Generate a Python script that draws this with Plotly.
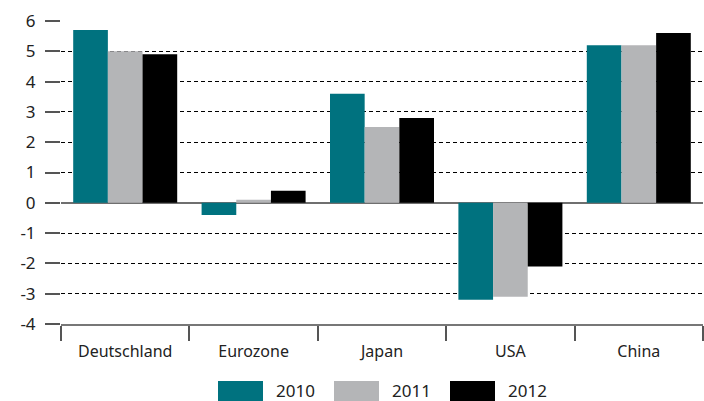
import plotly.graph_objects as go

categories = ["Deutschland", "Eurozone", "Japan", "USA", "China"]
series_names = ["2010", "2011", "2012"]
values_2010 = [5.7, -0.4, 3.6, -3.2, 5.2]
values_2011 = [5.0, 0.1, 2.5, -3.1, 5.2]
values_2012 = [4.9, 0.4, 2.8, -2.1, 5.6]
y_ticks = [-4, -3, -2, -1, 0, 1, 2, 3, 4, 5, 6]
colors = ["#00727F", "#B4B5B7", "#000000"]

FONT = "Noto Sans"
W, H = 704, 401
ML, MR, MT, MB = 61, 1, 21, 77

fig = go.Figure()
for name, vals, col in zip(series_names, [values_2010, values_2011, values_2012], colors):
    fig.add_trace(go.Bar(x=categories, y=vals, name=name, marker_color=col,
                         marker_line_width=0, showlegend=False, hoverinfo="skip"))

# custom legend (large swatches)
pw = W - ML - MR
ph = H - MT - MB
def px_x(x):
    return (x - ML) / pw
def px_y(y):
    return (H - MB - y) / ph

legend_x = [218, 334, 450]
for name, col, lx in zip(series_names, colors, legend_x):
    fig.add_shape(type="rect", xref="paper", yref="paper",
                  x0=px_x(lx), x1=px_x(lx + 45), y0=px_y(401), y1=px_y(381),
                  fillcolor=col, line_width=0, layer="above")
    fig.add_annotation(text=name, xref="paper", yref="paper",
                       x=px_x(lx + 56), y=px_y(391), xanchor="left", yanchor="middle",
                       showarrow=False, font=dict(family=FONT, size=17, color="#222"))

fig.update_layout(
    width=W, height=H,
    margin=dict(l=ML, r=MR, t=MT, b=MB),
    paper_bgcolor="white", plot_bgcolor="white",
    barmode="group", bargap=0.19, bargroupgap=0,
    font=dict(family=FONT, size=16, color="#222"),
)
fig.update_yaxes(
    range=[-4, 6], tickvals=y_ticks, ticktext=[str(v) for v in y_ticks],
    showgrid=True, gridcolor="#000", gridwidth=1, griddash="4px,3px",
    zeroline=True, zerolinecolor="#6f6f6f", zerolinewidth=2,
    ticks="outside", ticklen=15, tickcolor="#555", tickwidth=2,
    ticklabelstandoff=6, showline=False,
    tickfont=dict(family=FONT, size=17, color="#222"),
)
fig.update_xaxes(
    showline=True, linecolor="#777", linewidth=2,
    tickson="boundaries", ticks="outside", ticklen=15, tickcolor="#555", tickwidth=2,
    showgrid=False, ticklabelstandoff=12,
    tickfont=dict(family=FONT, size=16, color="#222"),
)

fig.write_html("out.html", config={"displayModeBar": False, "staticPlot": True},
               post_script="document.body.style.margin='0';document.body.style.padding='0';document.body.style.overflow='hidden';")
